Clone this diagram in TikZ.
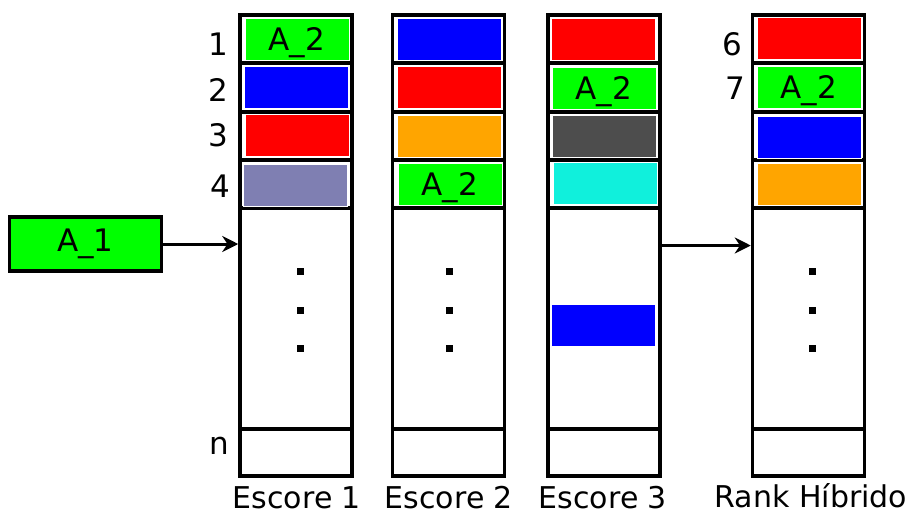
\documentclass[tikz,border=0pt]{standalone}
\usepackage{fontspec}
\setmainfont{DejaVu Sans}
\usetikzlibrary{arrows.meta}
\definecolor{cgreen}{RGB}{0,255,0}
\definecolor{cblue}{RGB}{0,0,255}
\definecolor{cred}{RGB}{255,0,0}
\definecolor{corange}{RGB}{255,165,0}
\definecolor{clav}{RGB}{127,127,178}
\definecolor{cgray}{RGB}{77,77,77}
\definecolor{ccyan}{RGB}{16,240,220}
\begin{document}
\begin{tikzpicture}[x=1pt,y=-1pt,
  txt/.style={font=\fontsize{31}{33}\selectfont, inner sep=0pt},
  captxt/.style={font=\fontsize{30}{32}\selectfont, inner sep=0pt, anchor=base},
  col/.style={draw=black, line width=3.5pt, minimum width=112pt, minimum height=461pt, inner sep=0pt},
  blk/.style={draw=white, line width=1pt, minimum width=104pt, minimum height=42pt, inner sep=0pt, text depth=0pt, font=\fontsize{31}{33}\selectfont},
  sep/.style={line width=3.5pt},
  arr/.style={line width=3pt, -{Stealth[length=16pt,width=16pt]}},
  dotm/.style={fill=black, minimum size=7pt, inner sep=0pt}]
\useasboundingbox (0,0) rectangle (914,515);
% columns
\node[col] (c1) at (296,245.5) {};
\node[col] (c2) at (448.5,245.5) {};
\node[col] (c3) at (604,245.5) {};
\node[col] (c4) at (808.5,245.5) {};
% separators
\foreach \c in {c1,c2,c3,c4}{
  \foreach \yy in {63,112,160,208,429}{
    \draw[sep] (\c.west |- 0,\yy) -- (\c.east |- 0,\yy);
  }
}
% column 1 blocks
\node[blk, fill=cgreen] (b11) at (297,39) {A\_2};
\node[blk, fill=cblue] (b12) at (296,87.5) {};
\node[blk, fill=cred] (b13) at (297,135.5) {};
\node[blk, fill=clav] (b14) at (295,185) {};
% column 2 blocks
\node[blk, fill=cblue] (b21) at (449,39) {};
\node[blk, fill=cred] (b22) at (449,87.5) {};
\node[blk, fill=corange] (b23) at (449,136) {};
\node[blk, fill=cgreen] (b24) at (450,184) {A\_2};
% column 3 blocks
\node[blk, fill=cred] (b31) at (603,39) {};
\node[blk, fill=cgreen] (b32) at (604,88) {A\_2};
\node[blk, fill=cgray] (b33) at (604,136) {};
\node[blk, fill=ccyan] (b34) at (605,183.5) {};
\node[blk, fill=cblue] (b35) at (603,325.5) {};
% column 4 blocks
\node[blk, fill=cred] (b41) at (809,38.5) {};
\node[blk, fill=cgreen] (b42) at (809,87) {A\_2};
\node[blk, fill=cblue] (b43) at (809,137) {};
\node[blk, fill=corange] (b44) at (809,184) {};
% row numbers
\node[txt] (n1) at (218,44) {1};
\node[txt] (n2) at (218,90) {2};
\node[txt] (n3) at (218,135) {3};
\node[txt] (n4) at (220,186) {4};
\node[txt] (nn) at (219,446) {n};
\node[txt] (n6) at (732,44) {6};
\node[txt] (n7) at (735,88) {7};
% dots
\foreach \c/\xx in {c1/300,c2/449,c4/812}{
  \foreach \yy in {271,310,348}{
    \node[dotm] at (\xx,\yy) {};
  }
}
% A_1 box
\node[draw=black, line width=3.5pt, fill=cgreen, minimum width=152pt, minimum height=54pt, inner sep=0pt, font=\fontsize{31}{33}\selectfont] (a1) at (85.5,244) {A\_1};
% arrows
\draw[arr] (a1.east) -- (a1.east -| c1.west);
\draw[arr] (c3.east) -- (c4.west);
% captions
\node[captxt] (l1) at (297,508) {Escore 1};
\node[captxt] (l2) at (449,508) {Escore 2};
\node[captxt] (l3) at (603,508) {Escore 3};
\node[captxt] (l4) at (811,507) {Rank Híbrido};
\end{tikzpicture}
\end{document}
